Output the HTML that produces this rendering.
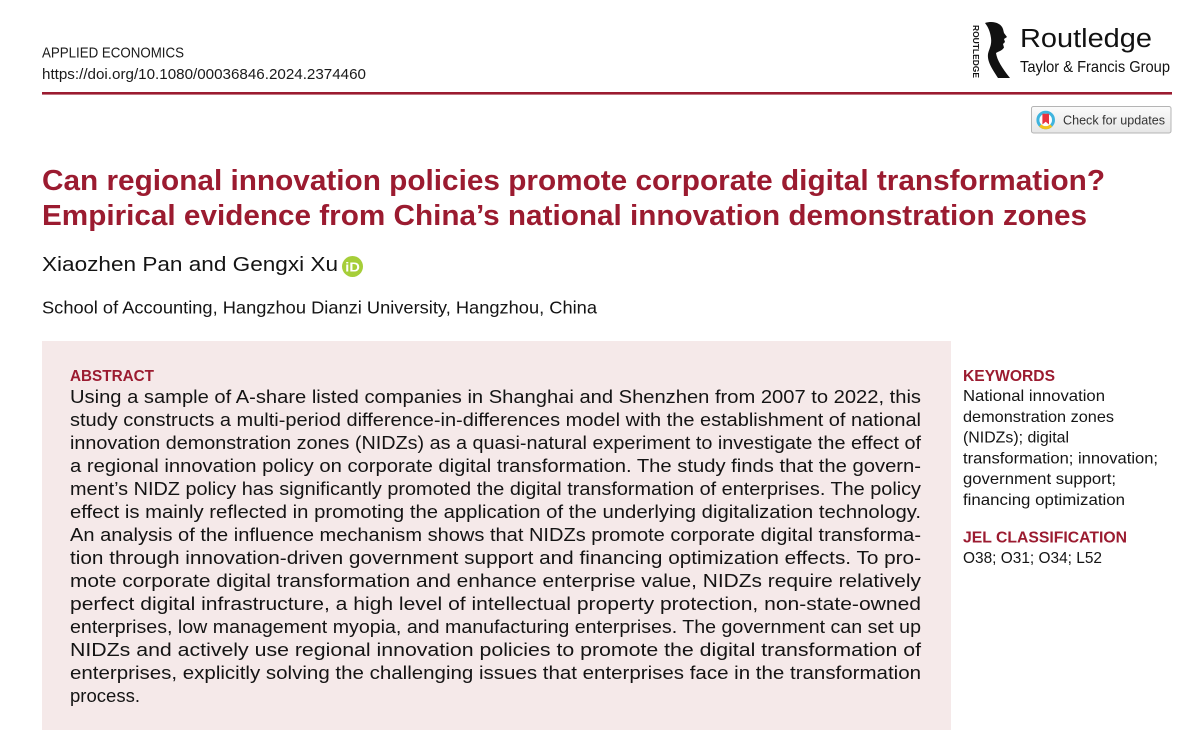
<!DOCTYPE html>
<html>
<head>
<meta charset="utf-8">
<style>
  html,body{margin:0;padding:0;background:#fff;}
  svg{display:block;}
  text{font-family:"Liberation Sans", Arial, sans-serif;}
  .hd{fill:#9b1b30;font-weight:bold;}
  .ab{font-size:18px;fill:#141414;}
  .kw{font-size:16px;fill:#141414;}
</style>
</head>
<body>
<svg width="1198" height="750" viewBox="0 0 1198 750" xmlns="http://www.w3.org/2000/svg">
  <rect x="0" y="0" width="1198" height="750" fill="#ffffff"/>

  <!-- Header -->
  <text x="42" y="57.5" font-size="15" fill="#1a1a1a" textLength="142" lengthAdjust="spacingAndGlyphs">APPLIED ECONOMICS</text>
  <text x="42" y="79" font-size="15" fill="#1a1a1a" textLength="324" lengthAdjust="spacingAndGlyphs">https://doi.org/10.1080/00036846.2024.2374460</text>

  <!-- Routledge logo -->
  <text transform="translate(973,25) rotate(90)" x="0" y="0" font-size="8.5" font-weight="bold" fill="#111" textLength="53" lengthAdjust="spacingAndGlyphs">ROUTLEDGE</text>
  <path d="M985 23 C993 20.5,1001 23,1003 29 L1004 33 L1007 37 L1004 39 L1005 42 L1003 44 L1004 47.5 C1002 51,998 51.5,996 53 C997 60,1002 68,1010 78 L998 78 C993 70,987 62,988 54 C989 49,992 45,991 38 C990 31,988 27,985 23 Z" fill="#111"/>
  <text x="1020" y="47" font-size="25.5" fill="#111" textLength="132" lengthAdjust="spacingAndGlyphs">Routledge</text>
  <text x="1020" y="72" font-size="16" fill="#111" textLength="150" lengthAdjust="spacingAndGlyphs">Taylor &amp; Francis Group</text>

  <!-- Red rule -->
  <rect x="42" y="92" width="1130" height="2.6" fill="#9b1b30"/>

  <!-- Check for updates -->
  <defs>
    <linearGradient id="cfu" x1="0" y1="0" x2="0" y2="1">
      <stop offset="0" stop-color="#fbfbfb"/>
      <stop offset="1" stop-color="#e6e6e6"/>
    </linearGradient>
  </defs>
  <rect x="1031.5" y="106.5" width="139.5" height="26.5" rx="2" ry="2" fill="url(#cfu)" stroke="#b4b4b4" stroke-width="1"/>
  <circle cx="1045.7" cy="120" r="7.8" fill="#fff" stroke="#3fb4de" stroke-width="3"/>
  <path d="M1040.2 125.5 A7.8 7.8 0 0 0 1051.2 125.5" fill="none" stroke="#f4c21b" stroke-width="3"/>
  <path d="M1042.4 113.8 L1049 113.8 L1049 124.5 L1045.7 121.8 L1042.4 124.5 Z" fill="#e8343f"/>
  <text x="1063" y="124.5" font-size="13" fill="#333" textLength="102" lengthAdjust="spacingAndGlyphs">Check for updates</text>

  <!-- Title -->
  <text class="hd" x="42" y="190" font-size="29" textLength="1063" lengthAdjust="spacingAndGlyphs">Can regional innovation policies promote corporate digital transformation?</text>
  <text class="hd" x="42" y="225" font-size="29" textLength="1045" lengthAdjust="spacingAndGlyphs">Empirical evidence from China’s national innovation demonstration zones</text>

  <!-- Authors -->
  <text x="42" y="271" font-size="20.5" fill="#141414" textLength="296" lengthAdjust="spacingAndGlyphs">Xiaozhen Pan and Gengxi Xu</text>
  <circle cx="352.5" cy="266.5" r="10.5" fill="#a6ce39"/>
  <text x="345.3" y="271.6" font-size="12.5" fill="#fff" font-weight="bold" textLength="14.5" lengthAdjust="spacingAndGlyphs">iD</text>

  <!-- Affiliation -->
  <text x="42" y="313.5" font-size="17.5" fill="#141414" textLength="555" lengthAdjust="spacingAndGlyphs">School of Accounting, Hangzhou Dianzi University, Hangzhou, China</text>

  <!-- Abstract box -->
  <rect x="42" y="341" width="909" height="389" fill="#f5e9e9"/>
  <text class="hd" x="70" y="381" font-size="16" textLength="84" lengthAdjust="spacingAndGlyphs">ABSTRACT</text>

  <text class="ab" x="70" y="403" textLength="851" lengthAdjust="spacingAndGlyphs">Using a sample of A-share listed companies in Shanghai and Shenzhen from 2007 to 2022, this</text>
  <text class="ab" x="70" y="426" textLength="851" lengthAdjust="spacingAndGlyphs">study constructs a multi-period difference-in-differences model with the establishment of national</text>
  <text class="ab" x="70" y="449" textLength="851" lengthAdjust="spacingAndGlyphs">innovation demonstration zones (NIDZs) as a quasi-natural experiment to investigate the effect of</text>
  <text class="ab" x="70" y="472" textLength="851" lengthAdjust="spacingAndGlyphs">a regional innovation policy on corporate digital transformation. The study finds that the govern-</text>
  <text class="ab" x="70" y="495" textLength="851" lengthAdjust="spacingAndGlyphs">ment’s NIDZ policy has significantly promoted the digital transformation of enterprises. The policy</text>
  <text class="ab" x="70" y="518" textLength="851" lengthAdjust="spacingAndGlyphs">effect is mainly reflected in promoting the application of the underlying digitalization technology.</text>
  <text class="ab" x="70" y="541" textLength="851" lengthAdjust="spacingAndGlyphs">An analysis of the influence mechanism shows that NIDZs promote corporate digital transforma-</text>
  <text class="ab" x="70" y="564" textLength="851" lengthAdjust="spacingAndGlyphs">tion through innovation-driven government support and financing optimization effects. To pro-</text>
  <text class="ab" x="70" y="587" textLength="851" lengthAdjust="spacingAndGlyphs">mote corporate digital transformation and enhance enterprise value, NIDZs require relatively</text>
  <text class="ab" x="70" y="610" textLength="851" lengthAdjust="spacingAndGlyphs">perfect digital infrastructure, a high level of intellectual property protection, non-state-owned</text>
  <text class="ab" x="70" y="633" textLength="851" lengthAdjust="spacingAndGlyphs">enterprises, low management myopia, and manufacturing enterprises. The government can set up</text>
  <text class="ab" x="70" y="656" textLength="851" lengthAdjust="spacingAndGlyphs">NIDZs and actively use regional innovation policies to promote the digital transformation of</text>
  <text class="ab" x="70" y="679" textLength="851" lengthAdjust="spacingAndGlyphs">enterprises, explicitly solving the challenging issues that enterprises face in the transformation</text>
  <text class="ab" x="70" y="702" textLength="70" lengthAdjust="spacingAndGlyphs">process.</text>

  <!-- Keywords -->
  <text class="hd" x="963" y="381" font-size="16" textLength="92" lengthAdjust="spacingAndGlyphs">KEYWORDS</text>
  <text class="kw" x="963" y="401" textLength="142" lengthAdjust="spacingAndGlyphs">National innovation</text>
  <text class="kw" x="963" y="421.8" textLength="151" lengthAdjust="spacingAndGlyphs">demonstration zones</text>
  <text class="kw" x="963" y="442.6" textLength="106" lengthAdjust="spacingAndGlyphs">(NIDZs); digital</text>
  <text class="kw" x="963" y="463.4" textLength="195" lengthAdjust="spacingAndGlyphs">transformation; innovation;</text>
  <text class="kw" x="963" y="484.2" textLength="153" lengthAdjust="spacingAndGlyphs">government support;</text>
  <text class="kw" x="963" y="505" textLength="162" lengthAdjust="spacingAndGlyphs">financing optimization</text>

  <text class="hd" x="963" y="542.5" font-size="16" textLength="164" lengthAdjust="spacingAndGlyphs">JEL CLASSIFICATION</text>
  <text class="kw" x="963" y="563" textLength="139" lengthAdjust="spacingAndGlyphs">O38; O31; O34; L52</text>
</svg>
</body>
</html>
